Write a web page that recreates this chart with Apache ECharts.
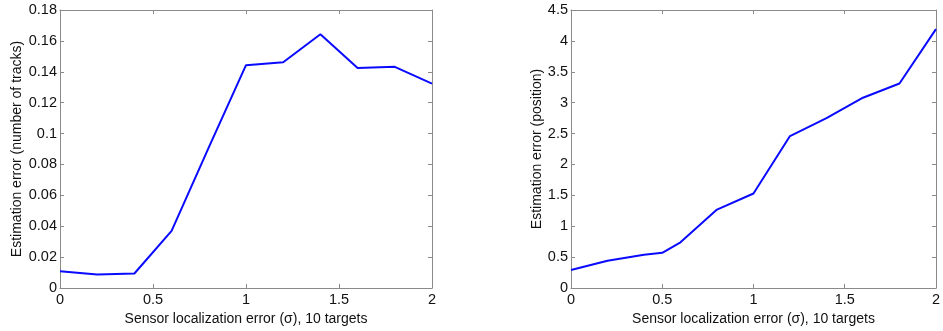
<!DOCTYPE html>
<html>
<head>
<meta charset="utf-8">
<script src="https://cdn.jsdelivr.net/npm/echarts@6/dist/echarts.min.js"></script>
<style>html,body{margin:0;padding:0;background:#fff;}#c{width:943px;height:331px;}</style>
</head>
<body>
<div id="c"></div>
<script>
var xLeft = [0, 0.2, 0.4, 0.6, 0.8, 1.0, 1.2, 1.4, 1.6, 1.8, 2.0];
var yLeft = [0.0108, 0.0087, 0.0094, 0.0370, 0.0910, 0.1443, 0.1462, 0.1643, 0.1425, 0.1432, 0.1323];
var xRight = [0, 0.2, 0.4, 0.5, 0.6, 0.8, 1.0, 1.2, 1.4, 1.6, 1.8, 2.0];
var yRight = [0.29, 0.44, 0.54, 0.57, 0.74, 1.27, 1.53, 2.46, 2.75, 3.08, 3.31, 4.19];
var xTitle = 'Sensor localization error (\u03c3), 10 targets';
var yTitleLeft = 'Estimation error (number of tracks)';
var yTitleRight = 'Estimation error (position)';

function pairs(xs, ys){ return xs.map(function(x,i){ return [x, ys[i]]; }); }

var FONT = 'Liberation Sans, Arial, sans-serif';
var TXT = '#111';
var AX = '#8a8a8a';

function mkX(gi, showLabels, pos){
  return {
    type:'value', gridIndex:gi, min:0, max:2, interval:0.5, position:pos,
    axisLine:{show:true, onZero:false, lineStyle:{color:AX, width:1}},
    axisTick:{show:true, inside:true, length:4, lineStyle:{color:AX}},
    axisLabel:{show:showLabels, color:TXT, fontSize:14.5, fontFamily:FONT, margin:4,
      formatter:function(v){ return String(+v.toFixed(2)); }},
    splitLine:{show:false},
    name: showLabels ? xTitle : '', nameLocation:'middle', nameGap:24,
    nameTextStyle:{color:TXT, fontSize:14, fontFamily:FONT}
  };
}
function mkY(gi, showLabels, pos, max, interval, name, gap){
  return {
    type:'value', gridIndex:gi, min:0, max:max, interval:interval, position:pos,
    axisLine:{show:true, onZero:false, lineStyle:{color:AX, width:1}},
    axisTick:{show:true, inside:true, length:4, lineStyle:{color:AX}},
    axisLabel:{show:showLabels, color:TXT, fontSize:14.5, fontFamily:FONT, margin:3,
      formatter:function(v){ return String(+v.toFixed(3)); }},
    splitLine:{show:false},
    name: showLabels ? name : '', nameLocation:'middle', nameGap:gap, nameRotate:90,
    nameTextStyle:{color:TXT, fontSize:14, fontFamily:FONT}
  };
}

var chart = echarts.init(document.getElementById('c'), null, {renderer:'canvas'});
chart.setOption({
  backgroundColor:'#fff',
  animation:false,
  grid:[
    {left:60, right:511, top:10, bottom:39},
    {left:571, right:1, top:10, bottom:39}
  ],
  xAxis:[
    mkX(0, true, 'bottom'), mkX(0, false, 'top'),
    mkX(1, true, 'bottom'), mkX(1, false, 'top')
  ],
  yAxis:[
    mkY(0, true, 'left', 0.18, 0.02, yTitleLeft, 36), mkY(0, false, 'right', 0.18, 0.02, '', 0),
    mkY(1, true, 'left', 4.5, 0.5, yTitleRight, 26), mkY(1, false, 'right', 4.5, 0.5, '', 0)
  ],
  series:[
    {type:'line', xAxisIndex:0, yAxisIndex:0, data:pairs(xLeft, yLeft), showSymbol:false,
     lineStyle:{color:'#0a0aff', width:2}, itemStyle:{color:'#0a0aff'}},
    {type:'line', xAxisIndex:2, yAxisIndex:2, data:pairs(xRight, yRight), showSymbol:false,
     lineStyle:{color:'#0a0aff', width:2}, itemStyle:{color:'#0a0aff'}}
  ]
});
</script>
</body>
</html>
